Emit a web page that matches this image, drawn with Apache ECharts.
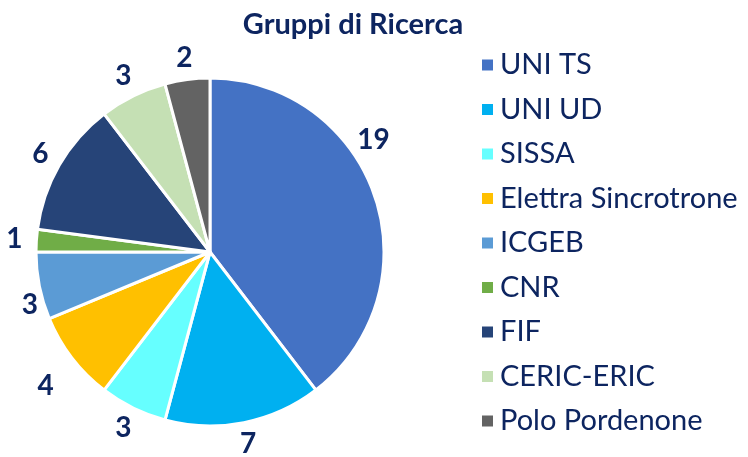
<!DOCTYPE html>
<html>
<head>
<meta charset="utf-8">
<script src="https://cdn.jsdelivr.net/npm/echarts@6/dist/echarts.min.js"></script>
<style>
    html, body { margin: 0; padding: 0; background: #fff; }
    #chart { width: 748px; height: 457px; }
</style>
</head>
<body>
<div id="chart"></div>
<script>
var categories = ['UNI TS', 'UNI UD', 'SISSA', 'Elettra Sincrotrone', 'ICGEB', 'CNR', 'FIF', 'CERIC-ERIC', 'Polo Pordenone'];
var values = [19, 7, 3, 4, 3, 1, 6, 3, 2];
var colors = ['#4472C4', '#00B0F0', '#66FFFF', '#FFC000', '#5B9BD5', '#70AD47', '#264478', '#C5E0B4', '#636363'];

// small label nudges (px) to mimic the original placement
var labelNudge = {0: [-22, -49], 3: [-9, 15], 4: [12, 15]};

var textColor = '#0D2560';
var fontFamily = 'Lato, "Open Sans", sans-serif';

var chart = echarts.init(document.getElementById('chart'));

var pieData = categories.map(function (name, i) {
    return { name: name, value: values[i] };
});

var option = {
    animation: false,
    color: colors,
    title: {
        text: 'Gruppi di Ricerca',
        left: 348,
        top: 5,
        textAlign: 'center',
        textStyle: {
            color: textColor,
            fontSize: 29,
            fontWeight: 'bold',
            fontFamily: fontFamily
        }
    },
    legend: {
        orient: 'vertical',
        left: 475,
        top: 42,
        itemWidth: 13,
        itemHeight: 13,
        itemGap: 8.5,
        icon: 'rect',
        data: categories,
        textStyle: {
            color: textColor,
            fontSize: 29,
            fontFamily: fontFamily,
            padding: [0, 0, 0, 1],
            lineHeight: 36
        }
    },
    series: [
        {
            type: 'pie',
            center: [210, 252],
            radius: [0, 174],
            startAngle: 90,
            clockwise: true,
            itemStyle: {
                borderColor: '#fff',
                borderWidth: 3
            },
            label: { show: false },
            labelLine: { show: false },
            data: pieData
        },
        {
            // invisible ring carrying the value labels just outside the pie
            type: 'pie',
            center: [210, 252],
            radius: [172, 214],
            startAngle: 90,
            clockwise: true,
            silent: true,
            itemStyle: { color: 'rgba(0,0,0,0)' },
            emphasis: { disabled: true },
            label: {
                show: true,
                position: 'inside',
                formatter: '{c}',
                color: textColor,
                fontSize: 28,
                fontWeight: 'bold',
                fontFamily: fontFamily
            },
            labelLine: { show: false },
            labelLayout: function (params) {
                var n = labelNudge[params.dataIndex];
                if (!n) return {};
                var r = params.labelRect;
                return {
                    x: r.x + r.width / 2 + n[0],
                    y: r.y + r.height / 2 + n[1],
                    align: 'center',
                    verticalAlign: 'middle'
                };
            },
            data: pieData
        }
    ]
};

chart.setOption(option);
</script>
</body>
</html>
